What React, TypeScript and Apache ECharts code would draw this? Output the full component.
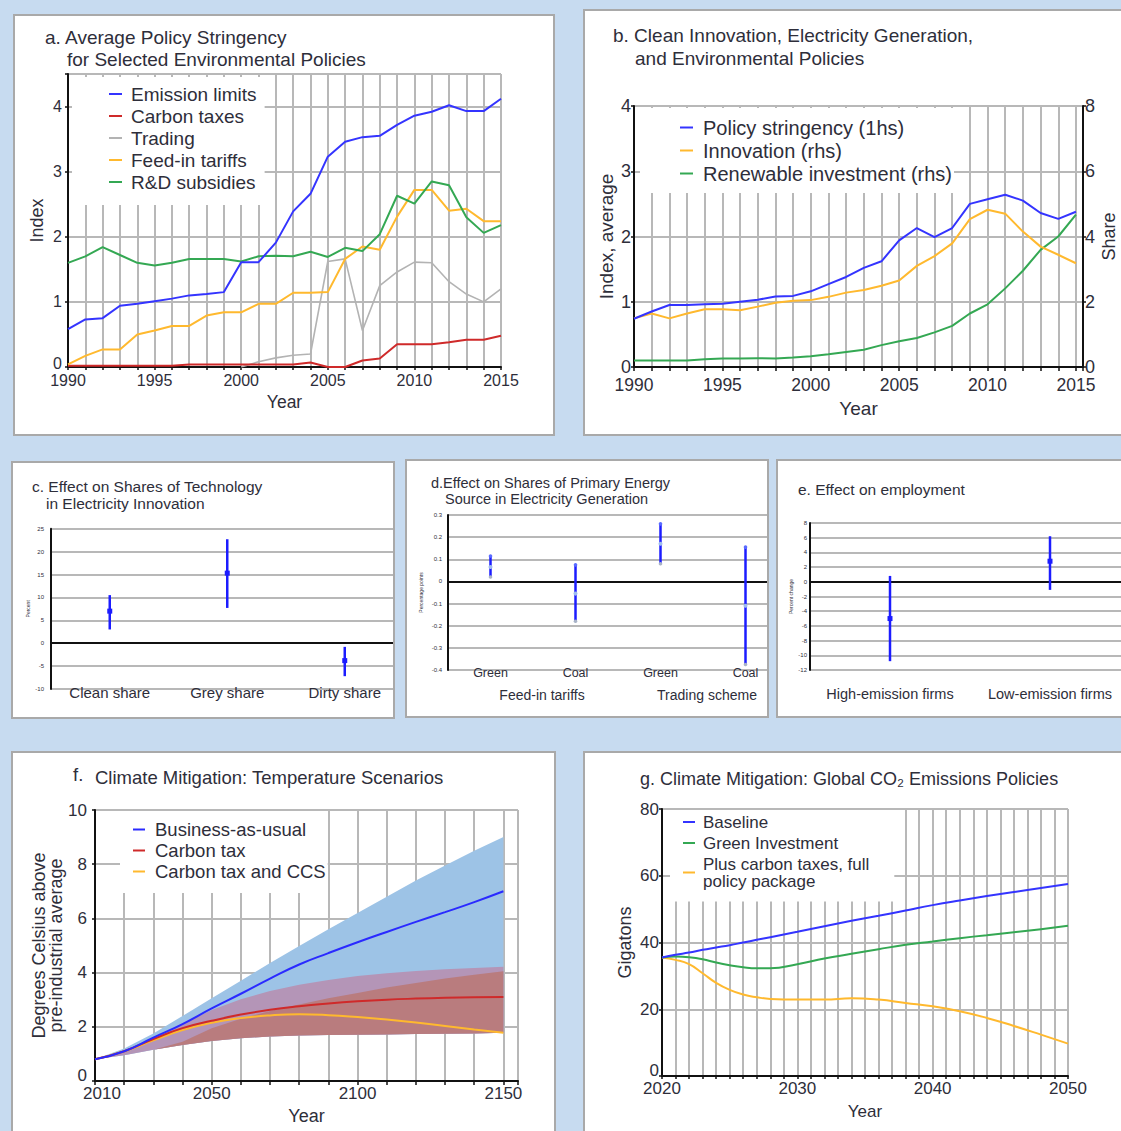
import React, { useEffect, useRef } from 'react';
import * as echarts from 'echarts';

const FONT = '"Liberation Sans", Arial, Helvetica, sans-serif';
const INK = '#2e2e3a';
const AXIS = '#111111';
const GRID = '#b8b8b8';
const PAGE_BG = '#c7dbf0';
const PANEL_EDGE = '#a9a9a9';

const BLUE = '#3434ff';
const RED = '#cf2a2a';
const GRAY = '#b3b3b3';
const AMBER = '#ffb92e';
const GREEN = '#34a853';
const BAR_BLUE = '#1c1cff';

// a. Average policy stringency by instrument
const policyYears = [1990, 1991, 1992, 1993, 1994, 1995, 1996, 1997, 1998, 1999, 2000, 2001, 2002, 2003, 2004, 2005, 2006, 2007, 2008, 2009, 2010, 2011, 2012, 2013, 2014, 2015];
const emissionLimits = [0.58, 0.73, 0.75, 0.94, 0.97, 1.01, 1.05, 1.1, 1.12, 1.15, 1.61, 1.61, 1.91, 2.39, 2.66, 3.23, 3.46, 3.53, 3.55, 3.72, 3.86, 3.92, 4.02, 3.93, 3.93, 4.12];
const carbonTaxes = [0.02, 0.02, 0.02, 0.02, 0.02, 0.02, 0.02, 0.04, 0.04, 0.04, 0.04, 0.04, 0.04, 0.04, 0.07, 0.0, 0.0, 0.1, 0.13, 0.35, 0.35, 0.35, 0.38, 0.42, 0.42, 0.48];
const trading = [null, null, null, null, null, null, null, null, null, null, 0.0, 0.08, 0.14, 0.18, 0.2, 1.62, 1.66, 0.56, 1.25, 1.46, 1.61, 1.6, 1.31, 1.12, 1.0, 1.2];
const feedInTariffs = [0.04, 0.17, 0.27, 0.27, 0.5, 0.56, 0.63, 0.63, 0.79, 0.84, 0.84, 0.97, 0.97, 1.14, 1.14, 1.15, 1.66, 1.85, 1.8, 2.31, 2.72, 2.72, 2.4, 2.43, 2.24, 2.24];
const rdSubsidies = [1.6, 1.7, 1.84, 1.72, 1.6, 1.56, 1.6, 1.66, 1.66, 1.66, 1.62, 1.7, 1.71, 1.7, 1.77, 1.69, 1.83, 1.78, 2.04, 2.63, 2.51, 2.85, 2.79, 2.3, 2.06, 2.18];

// b. Clean innovation, generation and policy
const policyStringency = [0.74, 0.85, 0.95, 0.95, 0.96, 0.97, 1.0, 1.03, 1.08, 1.09, 1.16, 1.27, 1.38, 1.52, 1.62, 1.94, 2.13, 1.99, 2.13, 2.5, 2.57, 2.64, 2.55, 2.36, 2.27, 2.38];
const innovationShare = [1.49, 1.64, 1.49, 1.64, 1.77, 1.77, 1.74, 1.85, 1.97, 2.03, 2.05, 2.15, 2.28, 2.36, 2.49, 2.65, 3.1, 3.4, 3.79, 4.53, 4.82, 4.7, 4.15, 3.69, 3.44, 3.18];
const renewableInvestment = [0.2, 0.2, 0.2, 0.2, 0.24, 0.26, 0.26, 0.27, 0.26, 0.29, 0.33, 0.39, 0.46, 0.53, 0.67, 0.79, 0.89, 1.06, 1.26, 1.64, 1.92, 2.41, 2.95, 3.59, 4.0, 4.67];

// c. Technology shares in electricity innovation (percent)
const techCategories = ['Clean share', 'Grey share', 'Dirty share'];
const techEstimate = [7.0, 15.3, -3.8];
const techLow = [3.0, 7.7, -7.2];
const techHigh = [10.5, 22.7, -0.8];

// d. Primary energy shares in generation (percentage points)
const energyCategories = ['Green', 'Coal', 'Green', 'Coal'];
const energyGroups = ['Feed-in tariffs', 'Trading scheme'];
const energyEstimate = [0.065, -0.055, 0.17, -0.11];
const energyLow = [0.02, -0.18, 0.08, -0.375];
const energyHigh = [0.115, 0.075, 0.26, 0.155];

// e. Employment (percent change)
const firmCategories = ['High-emission firms', 'Low-emission firms'];
const firmEstimate = [-5.0, 2.8];
const firmLow = [-10.8, -1.1];
const firmHigh = [0.8, 6.2];

// f. Temperature scenarios (degrees above pre-industrial)
const scenarioYears = [2010, 2020, 2030, 2040, 2050, 2060, 2070, 2080, 2090, 2100, 2110, 2120, 2130, 2140, 2150];
const businessAsUsual = [0.8, 1.1, 1.6, 2.1, 2.68, 3.22, 3.78, 4.3, 4.72, 5.12, 5.5, 5.87, 6.23, 6.6, 7.0];
const carbonTaxPath = [0.8, 1.1, 1.55, 1.95, 2.22, 2.45, 2.63, 2.76, 2.86, 2.94, 3.0, 3.04, 3.07, 3.09, 3.1];
const carbonTaxCcsPath = [0.8, 1.1, 1.5, 1.88, 2.15, 2.32, 2.42, 2.46, 2.43, 2.36, 2.27, 2.16, 2.03, 1.9, 1.78];
const bauUpper = [0.8, 1.2, 1.75, 2.4, 3.05, 3.7, 4.35, 4.98, 5.6, 6.2, 6.8, 7.4, 7.95, 8.5, 9.0];
const carbonTaxUpper = [0.8, 1.12, 1.55, 2.1, 2.62, 3.02, 3.32, 3.55, 3.73, 3.87, 3.98, 4.06, 4.12, 4.17, 4.22];
const ccsUpper = [0.8, 0.95, 1.15, 1.45, 1.95, 2.3, 2.58, 2.82, 3.05, 3.25, 3.45, 3.62, 3.78, 3.92, 4.05];
const bandLower = [0.8, 0.95, 1.15, 1.33, 1.48, 1.58, 1.64, 1.68, 1.7, 1.71, 1.72, 1.73, 1.74, 1.75, 1.78];

// g. Global CO2 emissions (gigatons)
const emissionYears = [2020, 2021, 2022, 2023, 2024, 2025, 2026, 2027, 2028, 2030, 2032, 2034, 2036, 2038, 2040, 2042, 2044, 2046, 2048, 2050];
const baseline = [35.5, 36.3, 37.0, 37.8, 38.5, 39.2, 40.0, 40.8, 41.6, 43.2, 44.9, 46.5, 48.0, 49.6, 51.2, 52.6, 53.9, 55.1, 56.3, 57.5];
const greenInvestment = [35.5, 35.8, 35.6, 35.0, 34.0, 33.2, 32.6, 32.3, 32.3, 33.5, 35.2, 36.6, 38.0, 39.3, 40.3, 41.3, 42.2, 43.1, 44.0, 45.0];
const fullPackage = [35.5, 34.8, 33.5, 30.8, 27.9, 25.8, 24.4, 23.6, 23.1, 22.9, 22.9, 23.3, 22.9, 21.9, 20.9, 19.4, 17.4, 15.0, 12.4, 9.7];

type Box = { x: number; y: number; w: number; h: number };
const EDGE = 2;
// extra drawing room to the right; the panel frame clips it
const OVERHANG = 60;

const boxes: Record<string, Box> = {
  a: { x: 13, y: 14, w: 542, h: 422 },
  b: { x: 583, y: 9, w: 560, h: 427 },
  c: { x: 11, y: 461, w: 384, h: 258 },
  d: { x: 405, y: 459, w: 364, h: 259 },
  e: { x: 776, y: 459, w: 360, h: 259 },
  f: { x: 11, y: 751, w: 545, h: 400 },
  g: { x: 583, y: 751, w: 560, h: 400 },
};

// page coordinates -> panel-local coordinates
const gridIn = (b: Box, left: number, top: number, right: number, bottom: number) => ({
  left: left - b.x - EDGE,
  top: top - b.y - EDGE,
  width: right - left,
  height: bottom - top,
});

const textAt = (b: Box, x: number, y: number, text: string, size: number, extra: any = {}) => ({
  type: 'text',
  x: x - b.x - EDGE,
  y: y - b.y - EDGE,
  silent: true,
  style: { text, fill: INK, fontSize: size, fontFamily: FONT, verticalAlign: 'middle', align: 'left', ...extra },
});

const blackLine = { show: true, onZero: true, lineStyle: { color: AXIS, width: 2 } };
const gridLines = { show: true, lineStyle: { color: GRID, width: 2 } };
const outTicks = { show: true, length: 3, lineStyle: { color: AXIS, width: 1.5 } };

// y labels where the zero label sits a little above the corner
const liftedZeroLabel = (size: number, margin: number, lift: number, onlyIntegers = false) => ({
  fontSize: size,
  color: INK,
  margin,
  fontFamily: FONT,
  formatter: (v: number) => {
    if (onlyIntegers && !Number.isInteger(v)) return '';
    return v === 0 ? '{lift|0}' : String(v);
  },
  rich: { lift: { fontSize: size, color: INK, fontFamily: FONT, padding: [0, 0, lift, 0] } },
});

const lineSeries = (name: string, xs: number[], ys: (number | null)[], color: string, width = 2, smooth = false, yAxisIndex = 0) => ({
  type: 'line',
  name,
  data: xs.map((x, i) => [x, ys[i]]),
  color,
  yAxisIndex,
  smooth,
  symbol: 'none',
  showSymbol: false,
  connectNulls: false,
  lineStyle: { color, width },
  emphasis: { disabled: true },
});

const legendBase = {
  orient: 'vertical',
  icon: 'rect',
  itemHeight: 2,
  selectedMode: false,
  backgroundColor: '#ffffff',
  borderWidth: 0,
};

const everyFive = (v: number) => (Math.abs(v % 5) < 1e-9 ? String(v) : '');

// ---------- a ----------
const A = boxes.a;
const optionA = {
  animation: false,
  textStyle: { fontFamily: FONT },
  grid: gridIn(A, 68, 74, 501, 367),
  graphic: [
    textAt(A, 45, 37, 'a. Average Policy Stringency', 19),
    textAt(A, 67, 59, 'for Selected Environmental Policies', 19),
  ],
  legend: {
    ...legendBase,
    left: 72 - A.x - EDGE,
    top: 77 - A.y - EDGE,
    padding: [6, 8, 12, 37],
    itemWidth: 13,
    itemGap: 0,
    textStyle: { fontFamily: FONT, fontSize: 19, color: INK, lineHeight: 22, padding: [0, 0, 0, 4] },
    data: ['Emission limits', 'Carbon taxes', 'Trading', 'Feed-in tariffs', 'R&D subsidies'],
  },
  xAxis: {
    type: 'value', min: 1990, max: 2015, interval: 1,
    axisLine: blackLine, axisTick: outTicks,
    axisLabel: { formatter: everyFive, fontSize: 16, color: INK, margin: 5, fontFamily: FONT },
    splitLine: gridLines,
    name: 'Year', nameLocation: 'middle', nameGap: 24,
    nameTextStyle: { fontSize: 17.5, color: INK, fontFamily: FONT },
  },
  yAxis: {
    type: 'value', min: 0, max: 4.5, interval: 1,
    axisLine: blackLine, axisTick: outTicks,
    axisLabel: liftedZeroLabel(16, 6, 8, true),
    splitLine: gridLines,
    name: 'Index', nameLocation: 'middle', nameGap: 22, nameMoveOverlap: false,
    nameTextStyle: { fontSize: 18, color: INK, fontFamily: FONT },
  },
  series: [
    lineSeries('Trading', policyYears, trading, GRAY, 1.6),
    lineSeries('Carbon taxes', policyYears, carbonTaxes, RED),
    lineSeries('Feed-in tariffs', policyYears, feedInTariffs, AMBER),
    lineSeries('R&D subsidies', policyYears, rdSubsidies, GREEN),
    lineSeries('Emission limits', policyYears, emissionLimits, BLUE),
  ],
};

// ---------- b ----------
const B = boxes.b;
const optionB = {
  animation: false,
  textStyle: { fontFamily: FONT },
  grid: gridIn(B, 634, 106, 1083, 367),
  graphic: [
    textAt(B, 613, 35, 'b. Clean Innovation, Electricity Generation,', 19),
    textAt(B, 635, 58, 'and Environmental Policies', 19),
  ],
  legend: {
    ...legendBase,
    left: 640 - B.x - EDGE,
    top: 108 - B.y - EDGE,
    padding: [8, 2, 8, 40],
    itemWidth: 13,
    itemGap: 0,
    textStyle: { fontFamily: FONT, fontSize: 20, color: INK, lineHeight: 23, padding: [0, 0, 0, 5] },
    data: ['Policy stringency (1hs)', 'Innovation (rhs)', 'Renewable investment (rhs)'],
  },
  xAxis: {
    type: 'value', min: 1990, max: 2015.4, interval: 1,
    axisLine: blackLine, axisTick: { ...outTicks, length: 4 },
    axisLabel: { formatter: everyFive, fontSize: 17.5, color: INK, margin: 9, fontFamily: FONT },
    splitLine: gridLines,
    name: 'Year', nameLocation: 'middle', nameGap: 27,
    nameTextStyle: { fontSize: 19, color: INK, fontFamily: FONT },
  },
  yAxis: [
    {
      type: 'value', min: 0, max: 4, interval: 1,
      axisLine: blackLine, axisTick: outTicks,
      axisLabel: { fontSize: 18, color: INK, margin: 3, fontFamily: FONT },
      splitLine: gridLines,
      name: 'Index, average', nameLocation: 'middle', nameGap: 18, nameMoveOverlap: false,
      nameTextStyle: { fontSize: 19, color: INK, fontFamily: FONT },
    },
    {
      type: 'value', min: 0, max: 8, interval: 2, position: 'right',
      axisLine: { ...blackLine, onZero: false }, axisTick: outTicks,
      axisLabel: { fontSize: 18, color: INK, margin: 2, fontFamily: FONT },
      splitLine: { show: false },
      name: 'Share', nameLocation: 'middle', nameGap: 17, nameMoveOverlap: false,
      nameTextStyle: { fontSize: 18, color: INK, fontFamily: FONT },
    },
  ],
  series: [
    lineSeries('Renewable investment (rhs)', policyYears, renewableInvestment, GREEN, 2, false, 1),
    lineSeries('Innovation (rhs)', policyYears, innovationShare, AMBER, 2, false, 1),
    lineSeries('Policy stringency (1hs)', policyYears, policyStringency, BLUE, 2, false, 0),
  ],
};

// ---------- error-bar panels (c, d, e) ----------
const errorBars = (low: number[], high: number[], est: number[], kind: 'square' | 'dot') => ({
  type: 'custom',
  xAxisIndex: 0,
  yAxisIndex: 0,
  silent: true,
  z: 5,
  data: est.map((v, i) => [i, low[i], high[i], v]),
  encode: { x: 0, y: [1, 2, 3] },
  renderItem: (_params: any, api: any) => {
    const i = api.value(0);
    const lo = api.coord([i, api.value(1)]);
    const hi = api.coord([i, api.value(2)]);
    const mid = api.coord([i, api.value(3)]);
    const children: any[] = [
      { type: 'line', shape: { x1: lo[0], y1: lo[1], x2: hi[0], y2: hi[1] }, style: { stroke: BAR_BLUE, lineWidth: 2.5 } },
    ];
    if (kind === 'square') {
      children.push({ type: 'rect', shape: { x: mid[0] - 2.5, y: mid[1] - 2.5, width: 5, height: 5 }, style: { fill: BAR_BLUE } });
    } else {
      children.push({ type: 'circle', shape: { cx: lo[0], cy: lo[1], r: 1.8 }, style: { fill: '#a9b4c8' } });
      children.push({ type: 'circle', shape: { cx: hi[0], cy: hi[1], r: 1.8 }, style: { fill: '#5a6cff' } });
      children.push({ type: 'circle', shape: { cx: mid[0], cy: mid[1], r: 2 }, style: { fill: '#9fbcef' } });
    }
    return { type: 'group', children };
  },
});

const categoryPair = (cats: string[], labelSize: number, labelMargin: number) => [
  {
    type: 'category', data: cats, position: 'top', boundaryGap: true,
    axisLine: { show: true, onZero: true, lineStyle: { color: AXIS, width: 2 } },
    axisTick: { show: false }, axisLabel: { show: false }, splitLine: { show: false },
  },
  {
    type: 'category', data: cats, position: 'bottom', boundaryGap: true,
    axisLine: { show: false, onZero: false }, axisTick: { show: false },
    axisLabel: { fontSize: labelSize, color: INK, margin: labelMargin, fontFamily: FONT, interval: 0 },
    splitLine: { show: false },
  },
];

const smallValueAxis = (min: number, max: number, interval: number, name: string, gap: number, margin: number) => ({
  type: 'value', min, max, interval,
  axisLine: { show: true, onZero: false, lineStyle: { color: AXIS, width: 2 } },
  axisTick: { show: false },
  axisLabel: { fontSize: 6, color: INK, margin, fontFamily: FONT },
  splitLine: gridLines,
  name, nameLocation: 'middle', nameGap: gap, nameMoveOverlap: false,
  nameTextStyle: { fontSize: 5, color: INK, fontFamily: FONT },
});

const C = boxes.c;
const optionC = {
  animation: false,
  textStyle: { fontFamily: FONT },
  grid: gridIn(C, 51, 528.7, 403.5, 689),
  graphic: [
    textAt(C, 32, 486, 'c. Effect on Shares of Technology', 15.5),
    textAt(C, 46, 503, 'in Electricity Innovation', 15.5),
  ],
  xAxis: categoryPair(techCategories, 15, -4.5),
  yAxis: smallValueAxis(-10, 25, 5, 'Percent', 21, 7),
  series: [errorBars(techLow, techHigh, techEstimate, 'square')],
};

const D = boxes.d;
const optionD = {
  animation: false,
  textStyle: { fontFamily: FONT },
  grid: gridIn(D, 448, 515, 788, 670),
  graphic: [
    textAt(D, 431, 483, 'd.Effect on Shares of Primary Energy', 14.5),
    textAt(D, 445, 499, 'Source in Electricity Generation', 14.5),
    textAt(D, 542, 695, energyGroups[0], 14, { align: 'center' }),
    textAt(D, 707, 695, energyGroups[1], 14, { align: 'center' }),
  ],
  xAxis: categoryPair(energyCategories, 12.5, -4),
  yAxis: smallValueAxis(-0.4, 0.3, 0.1, 'Percentage points', 25, 6),
  series: [errorBars(energyLow, energyHigh, energyEstimate, 'dot')],
};

const E = boxes.e;
const optionE = {
  animation: false,
  textStyle: { fontFamily: FONT },
  grid: gridIn(E, 810, 523, 1130, 670),
  graphic: [textAt(E, 798, 489, 'e. Effect on employment', 15.5)],
  xAxis: categoryPair(firmCategories, 14.5, 16),
  yAxis: smallValueAxis(-12, 8, 2, 'Percent change', 17, 3),
  series: [errorBars(firmLow, firmHigh, firmEstimate, 'square')],
};

// ---------- f ----------
const band = (lower: number[], upper: number[], fill: string, z: number) => ({
  type: 'custom',
  silent: true,
  z,
  data: scenarioYears.map((y, i) => [y, lower[i], upper[i]]),
  encode: { x: 0, y: [1, 2] },
  renderItem: (params: any, api: any) => {
    if (params.dataIndex !== 0) return null;
    const pts: number[][] = [];
    scenarioYears.forEach((y, i) => pts.push(api.coord([y, upper[i]])));
    for (let i = scenarioYears.length - 1; i >= 0; i--) pts.push(api.coord([scenarioYears[i], lower[i]]));
    return { type: 'polygon', shape: { points: pts }, style: { fill } };
  },
});

const F = boxes.f;
const optionF = {
  animation: false,
  textStyle: { fontFamily: FONT },
  grid: gridIn(F, 95, 810, 518, 1081),
  graphic: [
    textAt(F, 73, 774, 'f.', 18.5),
    textAt(F, 95, 777, 'Climate Mitigation: Temperature Scenarios', 18.5),
  ],
  legend: {
    ...legendBase,
    left: 120 - F.x - EDGE,
    top: 811 - F.y - EDGE,
    padding: [8, 2, 11, 13],
    itemWidth: 12,
    itemGap: 0,
    textStyle: { fontFamily: FONT, fontSize: 18.5, color: INK, lineHeight: 21, padding: [0, 0, 0, 5] },
    data: ['Business-as-usual', 'Carbon tax', 'Carbon tax and CCS'],
  },
  xAxis: {
    type: 'value', min: 2010, max: 2155, interval: 10,
    axisLine: blackLine, axisTick: { ...outTicks, length: 4 },
    axisLabel: {
      formatter: (v: number) => {
        if (v === 2010) return '{first|2010}';
        return [2050, 2100, 2150].includes(v) ? String(v) : '';
      },
      rich: { first: { fontSize: 17, color: INK, fontFamily: FONT, padding: [0, 0, 0, 14] } },
      fontSize: 17, color: INK, margin: 4, fontFamily: FONT,
    },
    splitLine: gridLines,
    name: 'Year', nameLocation: 'middle', nameGap: 20,
    nameTextStyle: { fontSize: 18, color: INK, fontFamily: FONT },
  },
  yAxis: {
    type: 'value', min: 0, max: 10, interval: 2,
    axisLine: blackLine, axisTick: outTicks,
    axisLabel: liftedZeroLabel(17, 8, 12),
    splitLine: gridLines,
    name: 'Degrees Celsius above\npre-industrial average', nameLocation: 'middle', nameGap: 31, nameMoveOverlap: false,
    nameTextStyle: { fontSize: 18, color: INK, lineHeight: 17, fontFamily: FONT },
  },
  series: [
    band(bandLower, bauUpper, '#9dc3e6', 1),
    band(bandLower, carbonTaxUpper, '#b495b7', 1.1),
    band(bandLower, ccsUpper, '#b97c7e', 1.2),
    lineSeries('Carbon tax and CCS', scenarioYears, carbonTaxCcsPath, AMBER, 2, true),
    lineSeries('Carbon tax', scenarioYears, carbonTaxPath, RED, 2, true),
    lineSeries('Business-as-usual', scenarioYears, businessAsUsual, '#2a2aff', 2, true),
  ],
};

// ---------- g ----------
const G = boxes.g;
const optionG = {
  animation: false,
  textStyle: { fontFamily: FONT },
  grid: gridIn(G, 662, 809, 1068, 1076),
  graphic: [textAt(G, 640, 779, 'g. Climate Mitigation: Global CO\u2082 Emissions Policies', 18)],
  legend: {
    ...legendBase,
    left: 670 - G.x - EDGE,
    top: 810 - G.y - EDGE,
    padding: [3.5, 25, 12, 13],
    itemWidth: 12,
    itemGap: 4,
    textStyle: { fontFamily: FONT, fontSize: 17, color: INK, lineHeight: 17, padding: [0, 0, 0, 3] },
    data: ['Baseline', 'Green Investment', 'Plus carbon taxes, full\npolicy package'],
  },
  xAxis: {
    type: 'value', min: 2020, max: 2050, interval: 1,
    axisLine: blackLine, axisTick: { ...outTicks, length: 3 },
    axisLabel: {
      formatter: (v: number) => (v % 10 === 0 ? String(v) : ''),
      fontSize: 17, color: INK, margin: 4, fontFamily: FONT,
    },
    splitLine: gridLines,
    name: 'Year', nameLocation: 'middle', nameGap: 27,
    nameTextStyle: { fontSize: 17, color: INK, fontFamily: FONT },
  },
  yAxis: {
    type: 'value', min: 0, max: 80, interval: 20,
    axisLine: blackLine, axisTick: outTicks,
    axisLabel: liftedZeroLabel(17, 3, 12),
    splitLine: gridLines,
    name: 'Gigatons', nameLocation: 'middle', nameGap: 28, nameMoveOverlap: false,
    nameTextStyle: { fontSize: 18, color: INK, fontFamily: FONT },
  },
  series: [
    lineSeries('Plus carbon taxes, full\npolicy package', emissionYears, fullPackage, AMBER, 2, true),
    lineSeries('Green Investment', emissionYears, greenInvestment, GREEN, 2, true),
    lineSeries('Baseline', emissionYears, baseline, BLUE, 2, true),
  ],
};

function Panel({ box, option }: { box: Box; option: any }) {
  const ref = useRef<HTMLDivElement>(null);
  useEffect(() => {
    if (!ref.current) return;
    const chart = echarts.init(ref.current, null, { renderer: 'svg' });
    chart.setOption(option);
    return () => chart.dispose();
  }, [option]);
  return (
    <div
      style={{
        position: 'absolute',
        left: box.x,
        top: box.y,
        width: box.w,
        height: box.h,
        boxSizing: 'border-box',
        border: `${EDGE}px solid ${PANEL_EDGE}`,
        background: '#ffffff',
        overflow: 'hidden',
      }}
    >
      <div ref={ref} style={{ width: box.w - 2 * EDGE + OVERHANG, height: box.h - 2 * EDGE }} />
    </div>
  );
}

export default function App() {
  return (
    <div
      style={{
        position: 'absolute',
        left: 0,
        top: 0,
        width: 1121,
        height: 1131,
        overflow: 'hidden',
        background: PAGE_BG,
        fontFamily: FONT,
      }}
    >
      <Panel box={boxes.a} option={optionA} />
      <Panel box={boxes.b} option={optionB} />
      <Panel box={boxes.c} option={optionC} />
      <Panel box={boxes.d} option={optionD} />
      <Panel box={boxes.e} option={optionE} />
      <Panel box={boxes.f} option={optionF} />
      <Panel box={boxes.g} option={optionG} />
    </div>
  );
}
